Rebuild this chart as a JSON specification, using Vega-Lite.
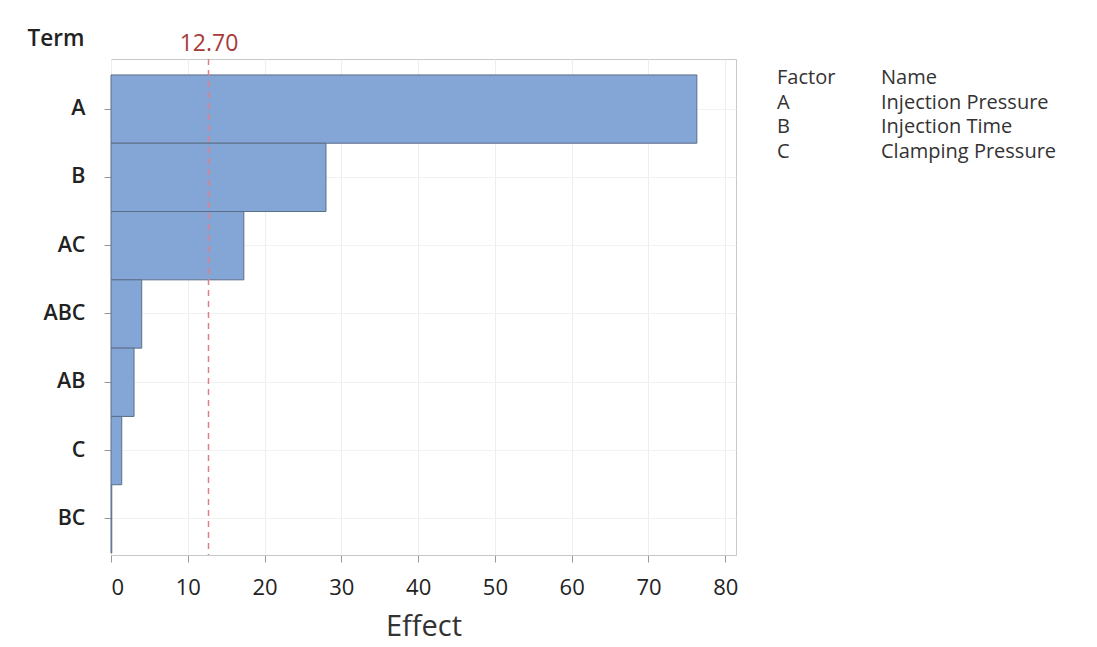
{
  "$schema": "https://vega.github.io/schema/vega-lite/v6.json",
  "background": "white",
  "padding": {"left": 26, "top": 26, "right": 0, "bottom": 0},
  "config": {
    "font": "Open Sans",
    "view": {"stroke": "#c8c8c8"}
  },
  "hconcat": [
    {
      "width": 625,
      "height": 496,
      "layer": [
        {
          "data": {"values": [
            {"Term": "A", "Effect": 76.3},
            {"Term": "B", "Effect": 28.0},
            {"Term": "AC", "Effect": 17.3},
            {"Term": "ABC", "Effect": 4.0},
            {"Term": "AB", "Effect": 3.0},
            {"Term": "C", "Effect": 1.4},
            {"Term": "BC", "Effect": 0.1}
          ]},
          "mark": {"type": "bar", "color": "#84a6d6", "stroke": "#5c6e88", "strokeWidth": 1},
          "encoding": {
            "y": {
              "field": "Term", "type": "nominal", "sort": null,
              "scale": {"paddingInner": 0, "paddingOuter": 0.131, "align": 0.89},
              "axis": {
                "title": "Term", "titleAngle": 0, "titleAlign": "left", "titleBaseline": "alphabetic",
                "titleX": -84, "titleY": -14, "titleFontSize": 22.5, "titleFontWeight": 600, "titleColor": "#222",
                "labelFontSize": 21.5, "labelFontWeight": 600, "labelColor": "#222", "labelPadding": 19,
                "tickColor": "#999", "tickSize": 7, "domain": false,
                "grid": true, "gridColor": "#f2f2f2"
              }
            },
            "x": {
              "field": "Effect", "type": "quantitative",
              "scale": {"domain": [0, 81.4], "nice": false, "zero": true},
              "axis": {
                "title": "Effect", "titleFontSize": 29, "titleFontWeight": 400, "titleColor": "#333", "titlePadding": 14,
                "values": [0, 10, 20, 30, 40, 50, 60, 70, 80],
                "labelFontSize": 22, "labelFontWeight": 400, "labelColor": "#222", "labelPadding": 15,
                "tickColor": "#999", "tickSize": 7, "domainColor": "#c8c8c8",
                "grid": true, "gridColor": "#eeeeee"
              }
            }
          }
        },
        {
          "data": {"values": [{"Critical": 12.7}]},
          "mark": {"type": "rule", "color": "#e07f86", "strokeWidth": 1.5, "strokeDash": [6, 5]},
          "encoding": {
            "x": {
              "field": "Critical", "type": "quantitative",
              "scale": {"domain": [0, 81.4], "nice": false},
              "axis": {
                "orient": "top", "title": null, "values": [12.7], "format": ".2f",
                "labelFontSize": 23, "labelFontWeight": 400, "labelColor": "#a83a3a", "labelPadding": 4,
                "ticks": false, "domain": false, "grid": false
              }
            }
          }
        }
      ],
      "resolve": {"scale": {"x": "independent"}, "axis": {"x": "independent"}}
    },
    {
      "width": 104,
      "height": 112,
      "view": {"stroke": null},
      "data": {"values": [
        {"Factor": "Factor", "Name": "Name"},
        {"Factor": "A", "Name": "Injection Pressure"},
        {"Factor": "B", "Name": "Injection Time"},
        {"Factor": "C", "Name": "Clamping Pressure"}
      ]},
      "encoding": {
        "y": {"field": "Factor", "type": "nominal", "sort": null, "scale": {"type": "point", "padding": 0.78}, "axis": null}
      },
      "layer": [
        {
          "mark": {"type": "text", "align": "left", "baseline": "middle", "fontSize": 20, "color": "#333"},
          "encoding": {
            "x": {"datum": "Factor", "type": "nominal", "scale": {"type": "point", "domain": ["Factor", "Name"], "padding": 0}, "axis": null},
            "text": {"field": "Factor"}
          }
        },
        {
          "mark": {"type": "text", "align": "left", "baseline": "middle", "fontSize": 20, "color": "#333"},
          "encoding": {
            "x": {"datum": "Name", "type": "nominal", "scale": {"type": "point", "domain": ["Factor", "Name"], "padding": 0}, "axis": null},
            "text": {"field": "Name"}
          }
        }
      ]
    }
  ],
  "spacing": 38
}
